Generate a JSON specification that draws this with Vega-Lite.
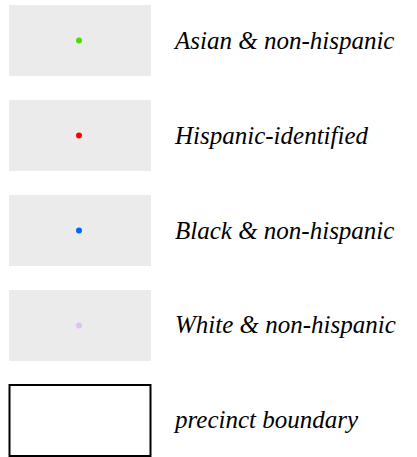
{
  "$schema": "https://vega.github.io/schema/vega-lite/v6.json",
  "width": 417,
  "height": 457,
  "padding": 0,
  "autosize": {"type": "none"},
  "background": "white",
  "config": {"view": {"stroke": null}},
  "data": {"values": [
    {"label": "Asian & non-hispanic", "kind": "dot", "order": 1},
    {"label": "Hispanic-identified", "kind": "dot", "order": 2},
    {"label": "Black & non-hispanic", "kind": "dot", "order": 3},
    {"label": "White & non-hispanic", "kind": "dot", "order": 4},
    {"label": "precinct boundary", "kind": "boundary", "order": 5}
  ]},
  "encoding": {
    "y": {"field": "label", "type": "nominal", "sort": {"field": "order"},
          "scale": {"range": [5, 456], "paddingInner": 0.2526, "paddingOuter": 0},
          "axis": null}
  },
  "layer": [
    {
      "transform": [{"filter": "datum.kind === 'dot'"}],
      "mark": {"type": "rect", "fill": "#ebebeb", "stroke": null},
      "encoding": {
        "x": {"datum": 9, "type": "quantitative", "scale": {"domain": [0, 417], "range": [0, 417], "nice": false, "zero": false}, "axis": null},
        "x2": {"datum": 151}
      }
    },
    {
      "transform": [{"filter": "datum.kind === 'boundary'"}],
      "mark": {"type": "rect", "fill": "white", "stroke": "black", "strokeWidth": 2},
      "encoding": {
        "x": {"datum": 9.5, "type": "quantitative"},
        "x2": {"datum": 150.5}
      }
    },
    {
      "transform": [{"filter": "datum.kind === 'dot'"}],
      "mark": {"type": "circle", "size": 36, "opacity": 1},
      "encoding": {
        "x": {"datum": 79, "type": "quantitative"},
        "y": {"field": "label", "type": "nominal", "sort": {"field": "order"}, "bandPosition": 0.5},
        "color": {"field": "label", "type": "nominal", "legend": null,
                  "scale": {"domain": ["Asian & non-hispanic", "Hispanic-identified", "Black & non-hispanic", "White & non-hispanic"],
                            "range": ["#44e000", "#ff0000", "#0066ff", "#e0bff8"]}}
      }
    },
    {
      "mark": {"type": "text", "align": "left", "baseline": "middle", "font": "Liberation Serif", "fontStyle": "italic", "fontSize": 25, "color": "black"},
      "encoding": {
        "x": {"datum": 175, "type": "quantitative"},
        "y": {"field": "label", "type": "nominal", "sort": {"field": "order"}, "bandPosition": 0.5},
        "text": {"field": "label"}
      }
    }
  ]
}
